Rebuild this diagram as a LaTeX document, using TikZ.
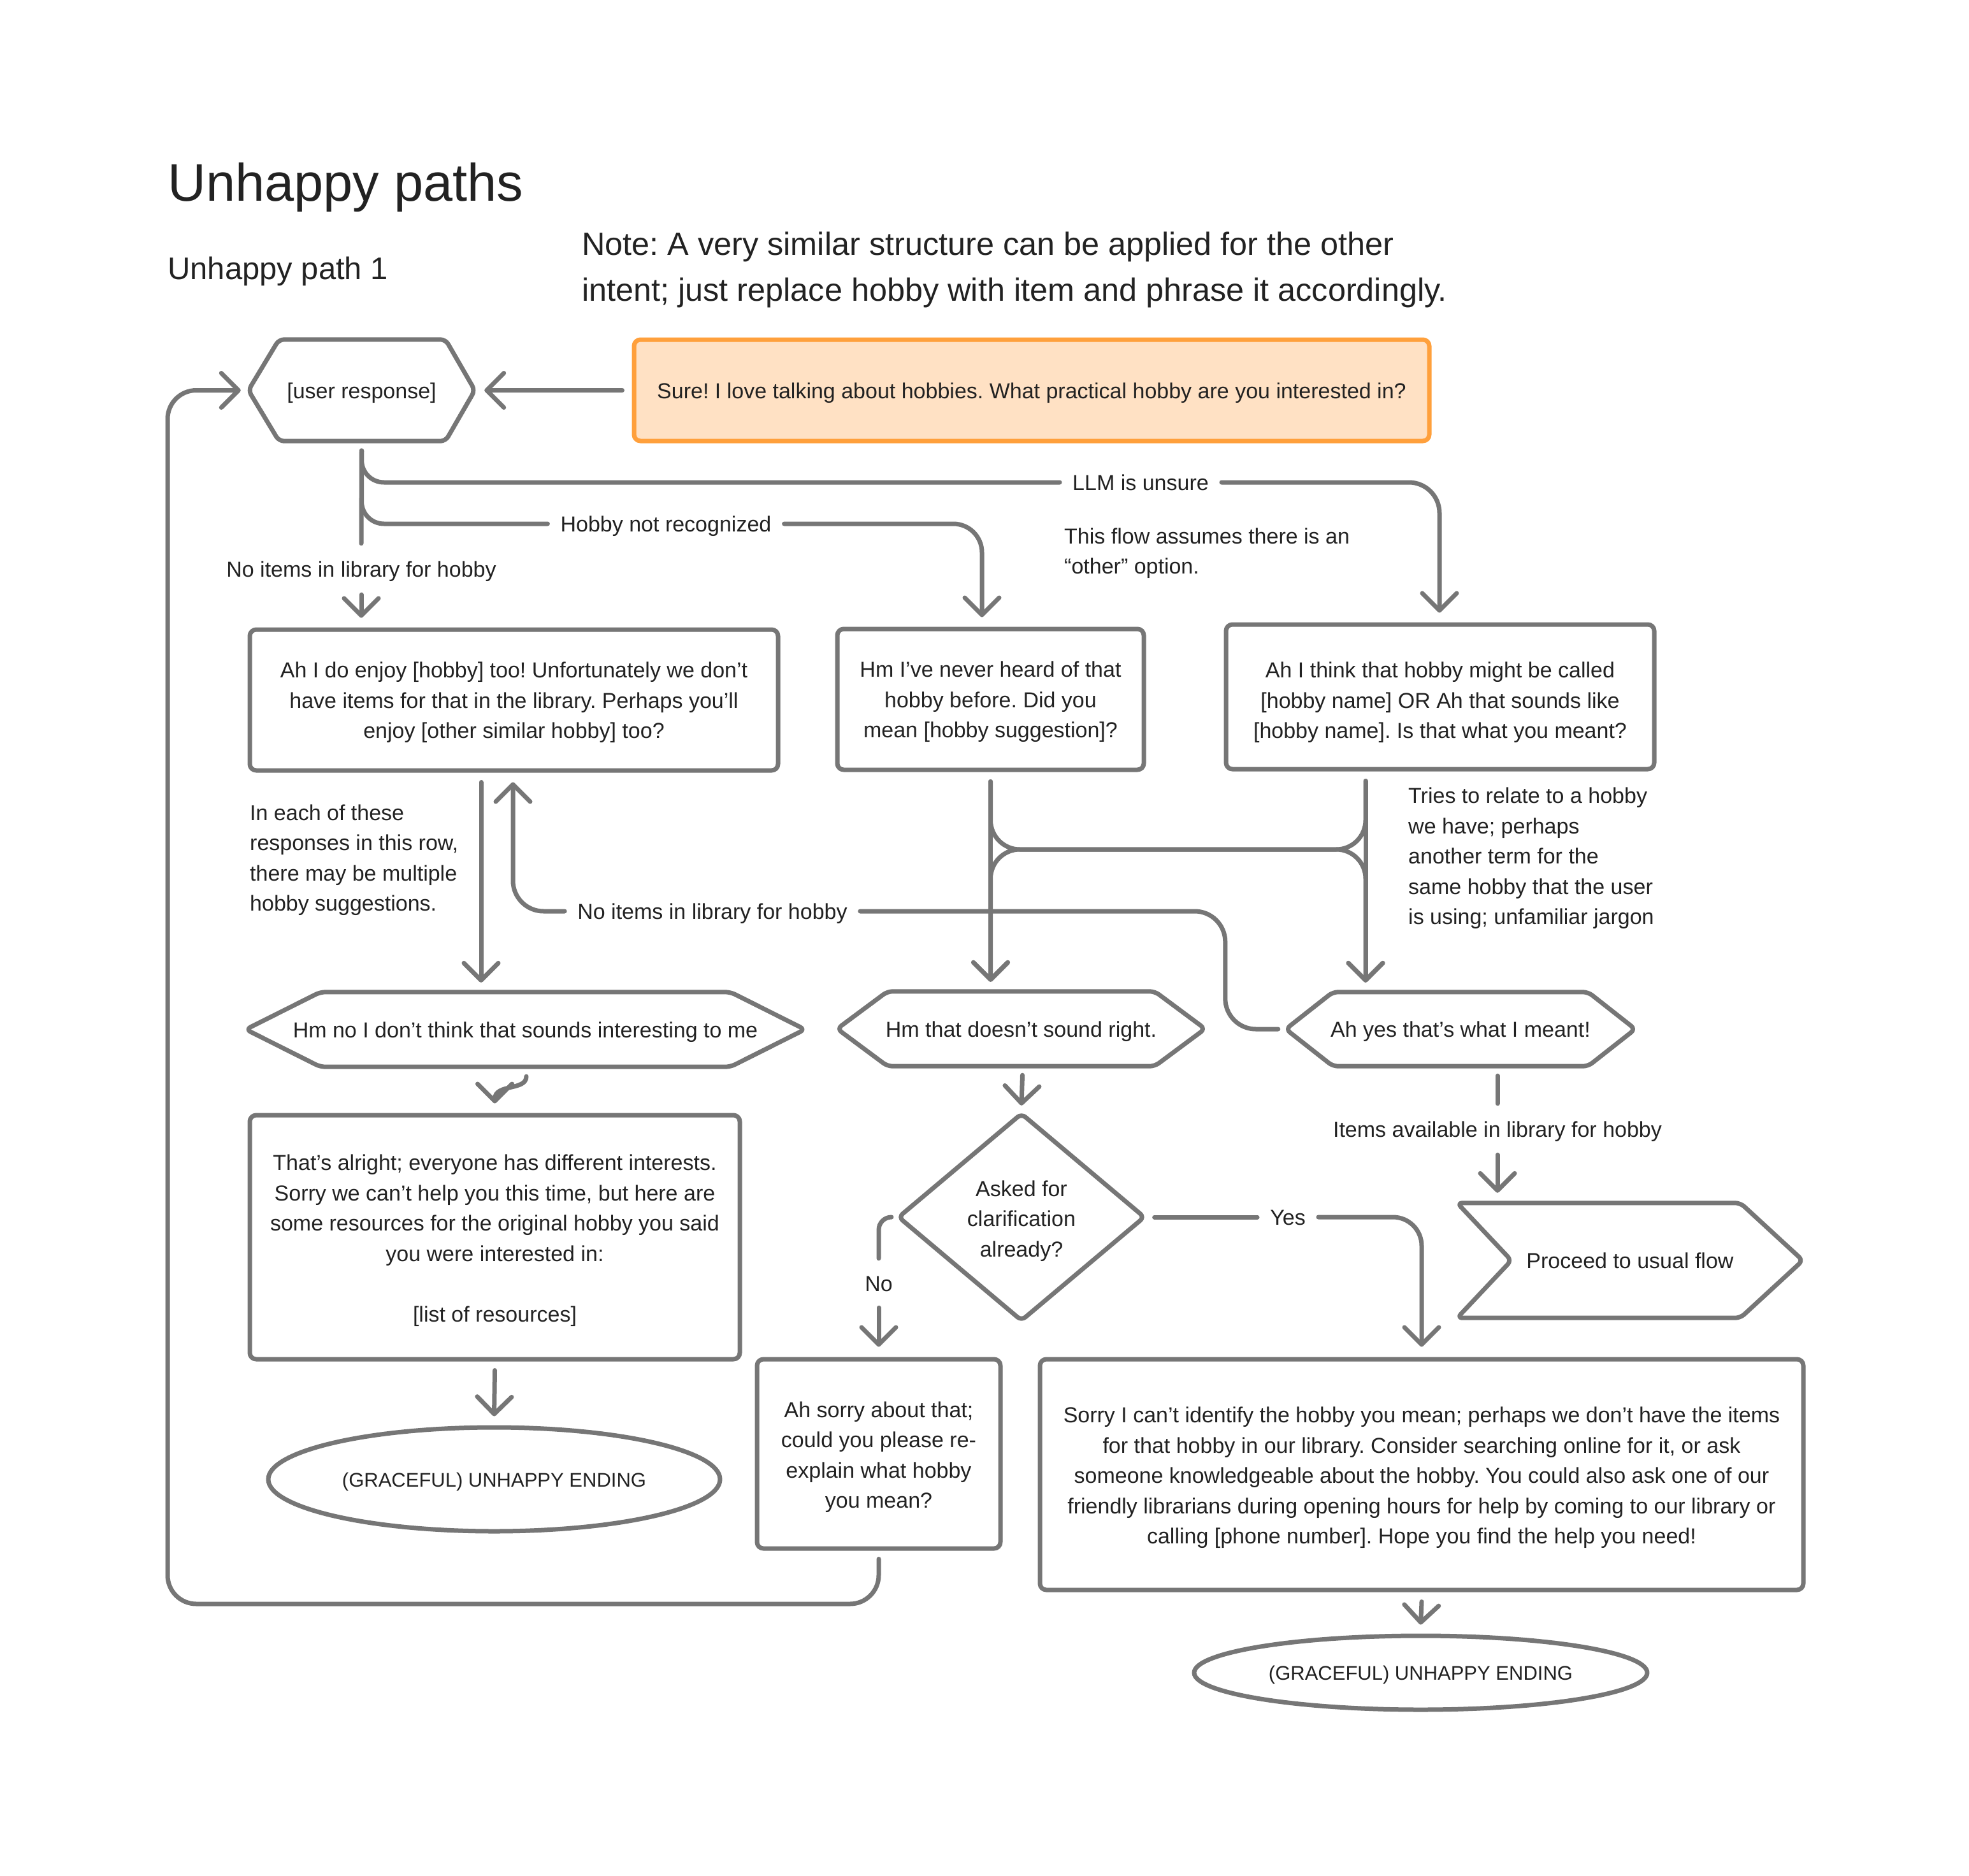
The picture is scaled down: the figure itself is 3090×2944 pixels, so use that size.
\documentclass[tikz,border=0pt]{standalone}
\usepackage{fontspec}
\setmainfont{Liberation Sans}
\usetikzlibrary{arrows.meta,shapes.geometric,calc}
\frenchspacing
\definecolor{ln}{HTML}{767676}
\definecolor{tx}{HTML}{222222}
\definecolor{orb}{HTML}{FFA03C}
\definecolor{orf}{HTML}{FFE1C4}
\newcommand{\bodyf}{\fontsize{34}{47.5}\selectfont}
\newcommand{\vt}[1]{\rule{0pt}{#1}}
\tikzset{
  conn/.style={draw=ln, line width=7pt, line cap=round, line join=round},
  arr/.style={conn, -{Straight Barb[length=27pt,width=54pt,round]}},
  shp/.style={draw=ln, line width=7pt, line join=round, rounded corners=8pt},
  vfix/.style={execute at begin node={\rule{0pt}{#1}}, execute at end node={\rule[-8pt]{0pt}{0pt}}},
  vfix/.default=33pt,
  box/.style={shp, rectangle, rounded corners=10pt, align=center, font=\bodyf, text=tx, inner sep=0pt},
  area/.style={rectangle, inner sep=0pt, align=center, font=\bodyf, text=tx},
  lbl/.style={inner xsep=20pt, inner ysep=0pt, font=\bodyf, text=tx, vfix},
  note/.style={font=\bodyf, text=tx, align=left, inner sep=0pt},
  endl/.style={shp, ellipse, inner sep=0pt, font=\fontsize{31}{40}\selectfont, text=tx, execute at begin node={\rule{0pt}{30pt}}, execute at end node={\rule[-7pt]{0pt}{0pt}}},
}
\begin{document}
\begin{tikzpicture}[x=1pt,y=-1pt]
\fill[white] (0,0) rectangle (3090,2944);
\useasboundingbox (0,0) rectangle (3090,2944);

% titles
\node[anchor=base west, inner sep=0pt, font=\fontsize{83}{92}\selectfont, text=tx] (title) at (263,315) {Unhappy paths};
\node[anchor=base west, inner sep=0pt, font=\fontsize{49}{58}\selectfont, text=tx] (sub) at (263,438) {Unhappy path 1};
\node[anchor=base west, inner sep=0pt, font=\fontsize{50.4}{60}\selectfont, text=tx] (note1) at (913,400) {Note: A very similar structure can be applied for the other};
\node[anchor=base west, inner sep=0pt, font=\fontsize{50.4}{60}\selectfont, text=tx] (note2) at (913,472) {intent; just replace hobby with item and phrase it accordingly.};

% top row
\node[area, vfix, minimum width=355pt, minimum height=159pt] (ur) at (567.5,612.5) {[user response]};
\draw[shp] (ur.west) -- ([xshift=48pt]ur.north west) -- ([xshift=-46pt]ur.north east) -- (ur.east) -- ([xshift=-46pt]ur.south east) -- ([xshift=48pt]ur.south west) -- cycle;
\node[box, vfix, draw=orb, fill=orf, minimum width=1248pt, minimum height=159pt] (sure) at (1619,612.5) {Sure! I love talking about hobbies. What practical hobby are you interested in?};

% second row
\node[box, minimum width=829pt, minimum height=221pt] (A) at (806.5,1098.5) {\vt{33pt}Ah I do enjoy [hobby] too! Unfortunately we don’t\\have items for that in the library. Perhaps you’ll\\enjoy [other similar hobby] too?};
\node[box, minimum width=481pt, minimum height=221pt] (B) at (1554.5,1097.5) {\vt{33pt}Hm I’ve never heard of that\\hobby before. Did you\\mean [hobby suggestion]?};
\node[box, minimum width=672pt, minimum height=227pt] (C) at (2260,1093.5) {\vt{43pt}Ah I think that hobby might be called\\{[hobby name]} OR Ah that sounds like\\{[hobby name]}. Is that what you meant?};

% third row
\node[area, vfix, minimum width=877pt, minimum height=117pt] (D) at (824.5,1615.5) {Hm no I don’t think that sounds interesting to me};
\draw[shp] (D.west) -- ([xshift=117pt]D.north west) -- ([xshift=-117pt]D.north east) -- (D.east) -- ([xshift=-117pt]D.south east) -- ([xshift=117pt]D.south west) -- cycle;
\node[area, vfix, minimum width=577pt, minimum height=117pt] (E) at (1602.5,1614.5) {Hm that doesn’t sound right.};
\draw[shp] (E.west) -- ([xshift=79pt]E.north west) -- ([xshift=-79pt]E.north east) -- (E.east) -- ([xshift=-79pt]E.south east) -- ([xshift=79pt]E.south west) -- cycle;
\node[area, vfix, minimum width=548pt, minimum height=116pt] (F) at (2292,1615) {Ah yes that’s what I meant!};
\draw[shp] (F.west) -- ([xshift=74pt]F.north west) -- ([xshift=-74pt]F.north east) -- (F.east) -- ([xshift=-74pt]F.south east) -- ([xshift=74pt]F.south west) -- cycle;

% lower part
\node[box, minimum width=769pt, minimum height=383pt] (G) at (776.5,1941.5) {\vt{35pt}That’s alright; everyone has different interests.\\Sorry we can’t help you this time, but here are\\some resources for the original hobby you said\\you were interested in:\\[47.5pt]{[list of resources]}};
\node[area, minimum width=385pt, minimum height=324pt] (dm) at (1603,1910) {\vt{37pt}Asked for\\clarification\\already?};
\draw[shp] (dm.north) -- (dm.east) -- (dm.south) -- (dm.west) -- cycle;
\node[area, vfix, minimum width=542pt, minimum height=180pt] (pf) at (2558,1978) {Proceed to usual flow};
\draw[shp] (pf.north west) -- ([xshift=-98pt]pf.north east) -- (pf.east) -- ([xshift=-98pt]pf.south east) -- (pf.south west) -- ([xshift=85pt]pf.west) -- cycle;
\node[box, minimum width=382pt, minimum height=297pt] (H) at (1379,2281.5) {\vt{35pt}Ah sorry about that;\\could you please re-\\explain what hobby\\you mean?};
\node[box, minimum width=1198pt, minimum height=362pt] (I) at (2231,2314) {\vt{35pt}Sorry I can’t identify the hobby you mean; perhaps we don’t have the items\\for that hobby in our library. Consider searching online for it, or ask\\someone knowledgeable about the hobby. You could also ask one of our\\friendly librarians during opening hours for help by coming to our library or\\calling [phone number]. Hope you find the help you need!};
\node[endl, minimum width=709pt, minimum height=163pt] (e1) at (775.5,2321.5) {(GRACEFUL) UNHAPPY ENDING};
\node[endl, minimum width=711pt, minimum height=116pt] (e2) at (2229.5,2625) {(GRACEFUL) UNHAPPY ENDING};

% annotations
\node[note, anchor=west] (n1) at (392,1345.5) {\vt{33pt}In each of these\\responses in this row,\\there may be multiple\\hobby suggestions.};
\node[note, anchor=west] (n2) at (1670,864) {\vt{33pt}This flow assumes there is an\\“other” option.};
\node[note, anchor=west] (n3) at (2210,1343) {\vt{33pt}Tries to relate to a hobby\\we have; perhaps\\another term for the\\same hobby that the user\\is using; unfamiliar jargon};

% connector labels
\node[lbl] (llm) at (1790,757) {LLM is unsure};
\node[lbl] (hnr) at (1045,822) {Hobby not recognized};
\node[lbl, minimum height=80pt] (ni1) at (567,893) {No items in library for hobby};
\node[lbl] (ni2) at (1118,1430) {No items in library for hobby};
\node[lbl, minimum height=80pt] (ia) at (2350,1772) {Items available in library for hobby};
\node[lbl, minimum height=77pt] (no) at (1379,2013.5) {No};
\node[lbl] (yes) at (2021,1910) {Yes};
\coordinate (jn) at (1850,1333);
\coordinate (lp) at (263,2517);

% connectors
\draw[arr] ([xshift=-15pt]sure.west) -- ([xshift=15pt]ur.east);
\draw[conn] ([yshift=-15pt]ur.south) -- (ni1.north);
\draw[arr] (ni1.south) -- ([yshift=15pt]ni1.south |- A.north);
\draw[conn, rounded corners=35pt] ([yshift=-15pt]ur.south) |- (llm.west);
\draw[arr, rounded corners=48pt] (llm.east) -| ([xshift=-1pt,yshift=15pt]C.north);
\draw[conn, rounded corners=35pt] ([yshift=-15pt]ur.south) |- (hnr.west);
\draw[arr, rounded corners=45pt] (hnr.east) -| ([xshift=-13.5pt,yshift=15pt]B.north);

\draw[arr] ([xshift=-51.5pt,yshift=-15pt]A.south) -- ([xshift=-51.5pt,yshift=15pt]A.south |- D.north);
\draw[arr, rounded corners=48pt] (ni2.west) -| ([xshift=-1.5pt,yshift=-15pt]A.south);
\draw[conn, rounded corners=48pt] ([xshift=-12pt]F.west) -| ([xshift=-95pt]F.west |- ni2.east) -- (ni2.east);

\draw[arr] ([yshift=-15pt]B.south) -- ([yshift=15pt]B.south |- E.north);
\draw[arr] ([xshift=-117pt,yshift=-15pt]C.south) -- ([xshift=-117pt,yshift=15pt]C.south |- F.north);
\draw[arr, rounded corners=46pt] ([yshift=-15pt]B.south) |- ([xshift=-117pt]C.south |- jn) -- ([xshift=-117pt,yshift=15pt]C.south |- F.north);
\draw[arr, rounded corners=46pt] ([xshift=-117pt,yshift=-15pt]C.south) |- (B.south |- jn) -- ([yshift=15pt]B.south |- E.north);

\draw[arr] ([xshift=1.5pt,yshift=-15pt]D.south) .. controls ([xshift=1.5pt,yshift=-38pt]D.south) and ([xshift=-48pt,yshift=-26pt]D.south) .. ([yshift=15pt]G.north);
\draw[arr] ([xshift=2pt,yshift=-14pt]E.south) -- ([yshift=13pt]dm.north);
\draw[conn, rounded corners=20pt] ([xshift=-12pt]dm.west) -| (no.north);
\draw[arr] (no.south) -- ([yshift=16pt]no.south |- H.north);
\draw[conn] ([xshift=16pt]dm.east) -- (yes.west);
\draw[arr, rounded corners=45pt] (yes.east) -| ([yshift=16pt]I.north);
\draw[conn] ([xshift=58pt,yshift=-15pt]F.south) -- (ia.north);
\draw[arr] (ia.south) -- ([yshift=16pt]ia.south |- pf.north);
\draw[arr] ([yshift=-14pt]G.south) -- ([yshift=14pt]e1.north);
\draw[arr] ([yshift=-15pt]I.south) -- ([yshift=14pt]e2.north);
\draw[arr, rounded corners=45pt] ([yshift=-13pt]H.south) |- (lp) |- ([xshift=-12pt]ur.west);
\end{tikzpicture}
\end{document}
